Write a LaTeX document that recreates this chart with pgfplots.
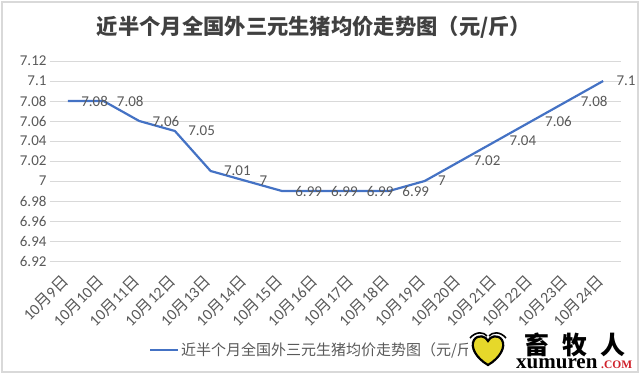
\documentclass[border=0pt]{standalone}
\usepackage{fontspec}
\usepackage{pgfplots}
\pgfplotsset{compat=1.18}
\setmainfont{Carlito}
\newfontfamily\cjk{Noto Sans CJK SC}
\definecolor{linecol}{HTML}{4472C4}
\definecolor{gridcol}{HTML}{D9D9D9}
\definecolor{textcol}{HTML}{595959}
\definecolor{titlecol}{HTML}{404040}
\definecolor{heartcol}{HTML}{E6D82A}
\definecolor{comred}{HTML}{D0202A}
\newcommand\md[1]{10{\cjk 月}#1{\cjk 日}}
\begin{document}
\begin{tikzpicture}
\useasboundingbox (0,0) rectangle (640bp,374bp);
\draw[gridcol, line width=1.2bp] (2bp,2bp) rectangle (638bp,372bp);
\node[font=\cjk\bfseries\fontsize{21.3bp}{25bp}\selectfont, text=titlecol] at (314bp,347bp) {近半个月全国外三元生猪均价走势图（元/斤）};
\begin{axis}[
  at={(50bp,113bp)}, anchor=south west,
  scale only axis, width=571bp, height=200bp,
  xmin=-0.5, xmax=15.5, ymin=6.92, ymax=7.12,
  ytick={6.92,6.94,6.96,6.98,7,7.02,7.04,7.06,7.08,7.1,7.12},
  xtick={0,1,2,3,4,5,6,7,8,9,10,11,12,13,14,15},
  xticklabels={\md{9},\md{10},\md{11},\md{12},\md{13},\md{14},\md{15},\md{16},\md{17},\md{18},\md{19},\md{20},\md{21},\md{22},\md{23},\md{24}},
  axis line style={draw=none},
  major tick length=0pt,
  ymajorgrids, grid style={gridcol, line width=0.9bp},
  tick label style={text=textcol, font=\fontsize{15bp}{18bp}\selectfont},
  xticklabel style={rotate=45, anchor=east, font=\fontsize{15.8bp}{18bp}\selectfont},
  xticklabel shift=15bp,
  /pgf/number format/assume math mode=true,
  clip=false,
  legend style={at={(0.471,-0.445)}, anchor=center, draw=none, fill=none,
    font=\cjk\fontsize{15bp}{18bp}\selectfont, text=textcol},
  legend image code/.code={\draw[#1] (0bp,0bp) -- (28bp,0bp);},
]
\addplot[color=linecol, line width=2.2bp, mark=none,
  nodes near coords,
  every node near coord/.append style={anchor=west, xshift=9bp, text=textcol,
    font=\fontsize{15bp}{18bp}\selectfont, /pgf/number format/assume math mode=true}]
  coordinates {(0,7.08) (1,7.08) (2,7.06) (3,7.05) (4,7.01) (5,7.00) (6,6.99) (7,6.99)
               (8,6.99) (9,6.99) (10,7.00) (11,7.02) (12,7.04) (13,7.06) (14,7.08) (15,7.10)};
\addlegendentry{近半个月全国外三元生猪均价走势图（元/斤）}
\end{axis}
% watermark
\fill[white] (468bp,4bp) rectangle (634bp,44bp);
\draw[black, line width=2.2bp, fill=heartcol]
  (488bp,9bp) .. controls (476bp,16bp) and (470bp,27bp) .. (474bp,34bp)
  .. controls (478bp,40bp) and (486bp,38bp) .. (488bp,33bp)
  .. controls (490bp,38bp) and (498bp,40bp) .. (502bp,34bp)
  .. controls (506bp,27bp) and (500bp,16bp) .. (488bp,9bp) -- cycle;
\draw[black, line width=1.6bp] (470bp,36bp) .. controls (476bp,43bp) and (484bp,42bp) .. (487bp,38bp);
\draw[black, line width=1.6bp] (506bp,36bp) .. controls (500bp,43bp) and (492bp,42bp) .. (489bp,38bp);
\node[font=\cjk\bfseries\fontsize{25bp}{28bp}\selectfont, text=black, inner sep=0pt] at (575bp,29bp) {畜\hspace{13bp}牧\hspace{13bp}人};
\node[anchor=base west, inner sep=0pt, font=\fontspec{Liberation Serif}\bfseries\fontsize{21bp}{22bp}\selectfont] at (516bp,6bp) {xumuren};
\node[anchor=base west, inner sep=0pt, text=comred, font=\fontspec{Liberation Serif}\bfseries\fontsize{11.5bp}{12bp}\selectfont] at (601bp,6bp) {.COM};
\end{tikzpicture}
\end{document}
